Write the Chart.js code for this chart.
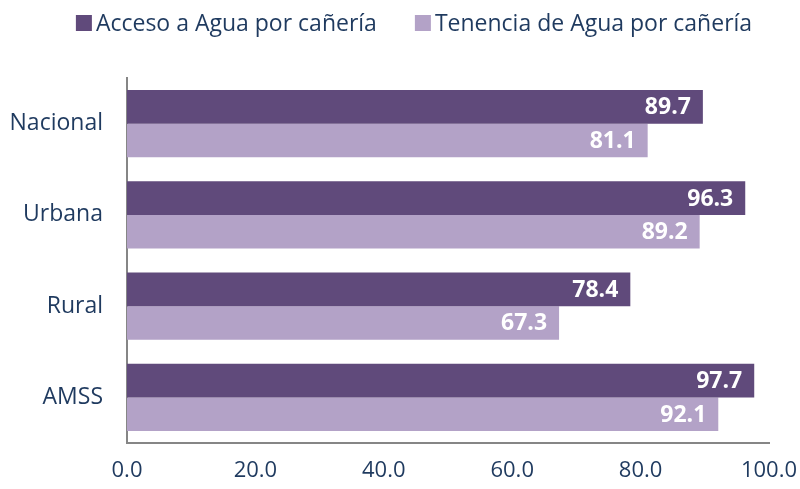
<!DOCTYPE html>
<html>
<head>
<meta charset="utf-8">
<script src="https://cdn.jsdelivr.net/npm/chart.js@4"></script>
<style>
  html, body { margin: 0; padding: 0; background: #fff; }
  #wrap { width: 800px; height: 489px; }
</style>
</head>
<body>
<div id="wrap"><canvas id="c" width="800" height="489"></canvas></div>
<script>
const categories = ['Nacional', 'Urbana', 'Rural', 'AMSS'];
const acceso = [89.7, 96.3, 78.4, 97.7];
const tenencia = [81.1, 89.2, 67.3, 92.1];
const seriesNames = ['Acceso a Agua por cañería', 'Tenencia de Agua por cañería'];
const tickLabels = ['0.0', '20.0', '40.0', '60.0', '80.0', '100.0'];

const FONT = "'Open Sans', 'Noto Sans', sans-serif";
const TEXT = '#1f3a5f';

// Writes each bar's value in white bold, inside the bar's right end
const valueLabels = {
  id: 'valueLabels',
  afterDatasetsDraw(chart) {
    const ctx = chart.ctx;
    ctx.save();
    ctx.font = "bold 23px " + FONT;
    ctx.fillStyle = '#ffffff';
    ctx.textAlign = 'right';
    ctx.textBaseline = 'middle';
    chart.data.datasets.forEach((ds, i) => {
      chart.getDatasetMeta(i).data.forEach((bar, j) => {
        ctx.fillText(ds.data[j].toFixed(1), bar.x - 12, bar.y + 1);
      });
    });
    ctx.restore();
  }
};

// Compact one-line legend across the top of the canvas
const topLegend = {
  id: 'topLegend',
  afterDraw(chart) {
    const ctx = chart.ctx;
    ctx.save();
    ctx.font = "23px " + FONT;
    ctx.textBaseline = 'middle';
    const box = 16, gapText = 4, gapItem = 38, cy = 23;
    const items = chart.data.datasets.map(ds => ({
      label: ds.label, color: ds.backgroundColor, w: ctx.measureText(ds.label).width
    }));
    const total = items.reduce((s, it) => s + box + gapText + it.w, 0) + gapItem * (items.length - 1);
    let x = 414 - total / 2;
    items.forEach(it => {
      ctx.fillStyle = it.color;
      ctx.fillRect(x, cy - box / 2, box, box);
      x += box + gapText;
      ctx.fillStyle = TEXT;
      ctx.textAlign = 'left';
      ctx.fillText(it.label, x, cy + 1);
      x += it.w + gapItem;
    });
    ctx.restore();
  }
};

new Chart(document.getElementById('c'), {
  type: 'bar',
  data: {
    labels: categories,
    datasets: [
      { label: seriesNames[0], data: acceso, backgroundColor: '#604a7b' },
      { label: seriesNames[1], data: tenencia, backgroundColor: '#b3a2c7' }
    ]
  },
  options: {
    indexAxis: 'y',
    responsive: false,
    animation: false,
    layout: { padding: { left: 0, right: 31, top: 78, bottom: 0 } },
    plugins: {
      legend: { display: false },
      tooltip: { enabled: false }
    },
    datasets: { bar: { categoryPercentage: 0.735, barPercentage: 1.0 } },
    scales: {
      x: {
        min: 0, max: 100,
        ticks: {
          stepSize: 20, color: TEXT, padding: 15,
          font: { family: FONT, size: 22 },
          callback: (v, i) => tickLabels[i]
        },
        grid: { display: false, drawTicks: false },
        border: { color: '#868686', width: 2 },
        afterFit(scale) { scale.height = 46; scale.paddingLeft = 0; scale.paddingRight = 0; }
      },
      y: {
        ticks: { color: TEXT, padding: 24, font: { family: FONT, size: 23 } },
        grid: { display: false, drawTicks: false },
        border: { color: '#868686', width: 2 },
        afterFit(scale) { scale.width = 127; scale.paddingTop = 0; scale.paddingBottom = 0; }
      }
    }
  },
  plugins: [valueLabels, topLegend]
});
</script>
</body>
</html>
